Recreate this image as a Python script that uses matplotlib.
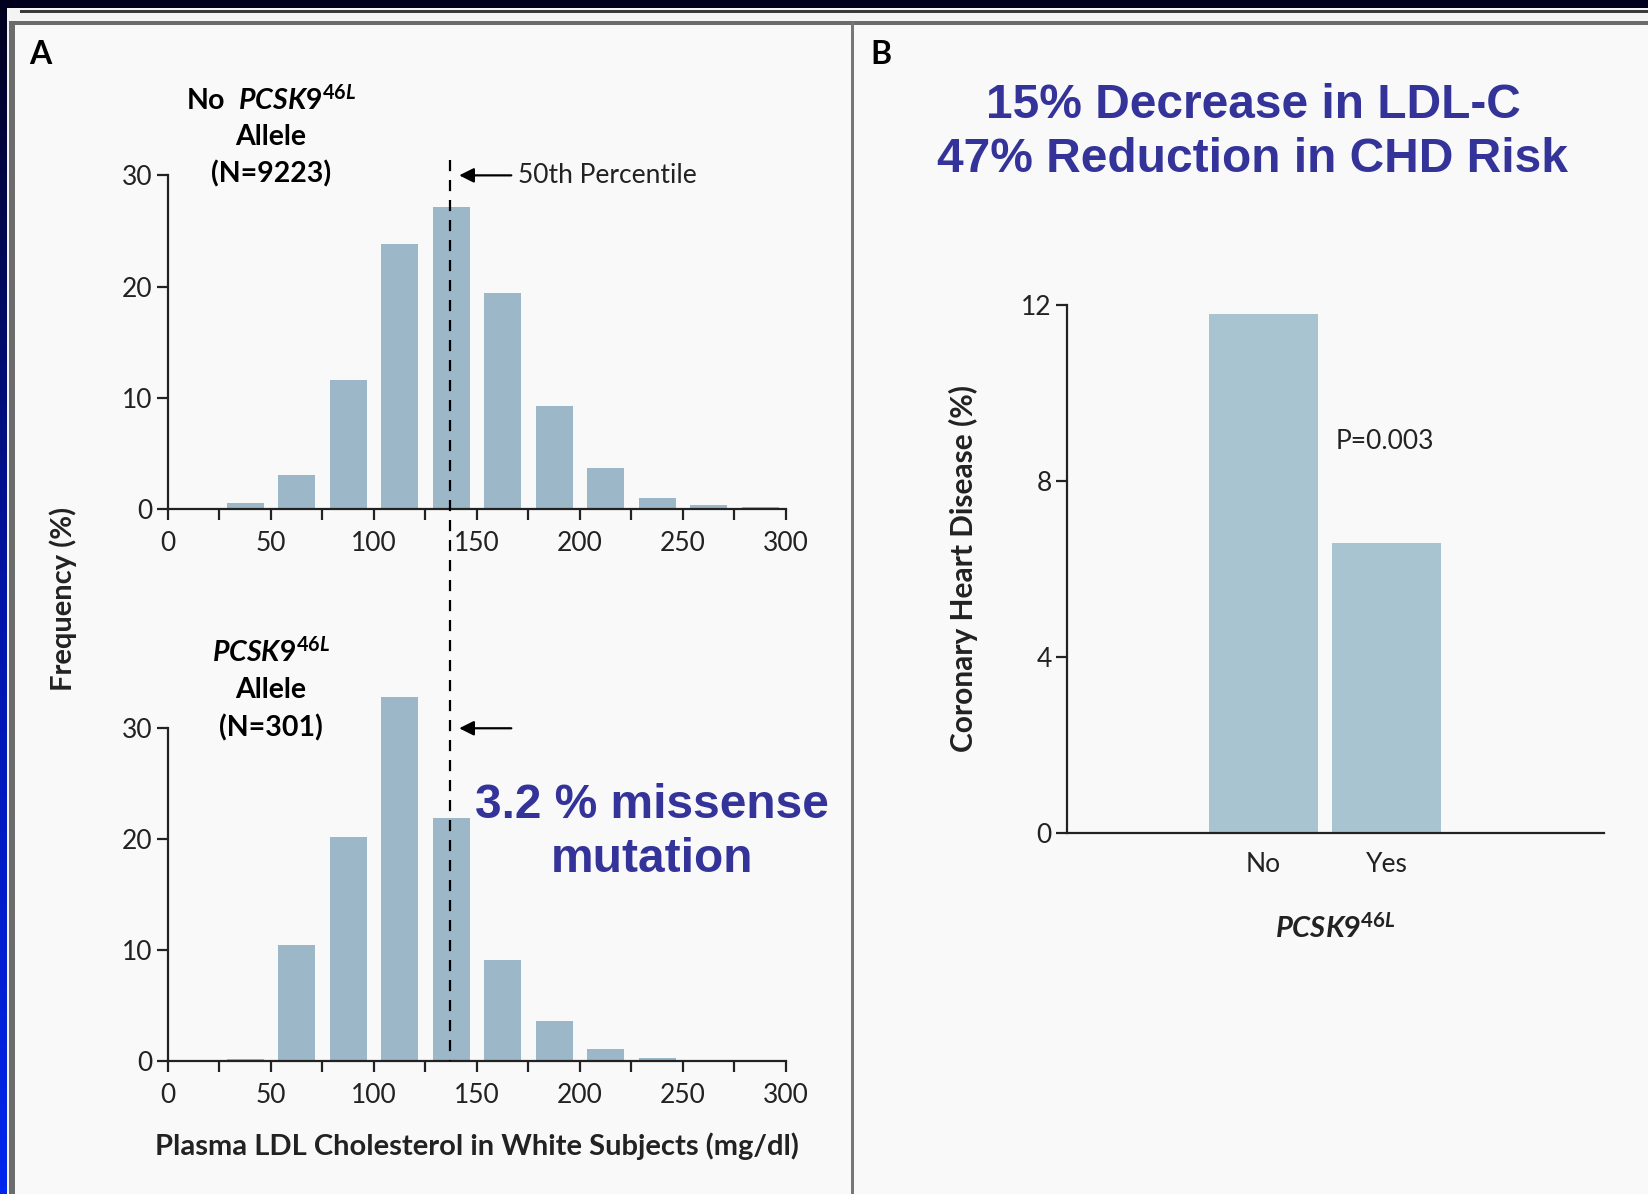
import numpy as np
import matplotlib
matplotlib.use("Agg")
from matplotlib import pyplot as plt
from matplotlib.patches import Rectangle
from matplotlib.lines import Line2D
import matplotlib.transforms as mtransforms

plt.rcParams['font.family'] = ['Lato', 'DejaVu Sans']
plt.rcParams['mathtext.fontset'] = 'custom'
plt.rcParams['mathtext.it'] = 'Lato:italic:bold'
plt.rcParams['mathtext.rm'] = 'Lato:bold'

# data
bin_centers = [37.5, 62.5, 87.5, 112.5, 137.5, 162.5, 187.5, 212.5, 237.5, 262.5, 287.5]
freq_no_allele = [0.5, 3.1, 11.6, 23.8, 27.2, 19.4, 9.3, 3.7, 1.0, 0.35, 0.15]
freq_allele = [0.2, 10.5, 20.2, 32.8, 21.9, 9.1, 3.6, 1.05, 0.24, 0.0, 0.0]
median_ldl = 137
x_ticks = [0, 50, 100, 150, 200, 250, 300]
x_minor = [25, 75, 125, 175, 225, 275]
freq_ticks = [0, 10, 20, 30]

chd_groups = ['No', 'Yes']
chd_rate = [11.8, 6.6]
chd_ticks = [0, 4, 8, 12]

W, H = 1649, 1194
fig = plt.figure(figsize=(W / 100, H / 100), dpi=100)
fig.patch.set_facecolor('#f9f9fa')


def box(x0, y0, x1, y1):
    # pixel box (top-left origin) -> figure fraction [left, bottom, width, height]
    return [x0 / W, 1 - y1 / H, (x1 - x0) / W, (y1 - y0) / H]


def rect(x0, y0, x1, y1, color, z=0):
    l, b, w, h = box(x0, y0, x1, y1)
    fig.add_artist(Rectangle((l, b), w, h, transform=fig.transFigure,
                             facecolor=color, edgecolor='none', zorder=z))


def px(x, y):
    return x / W, 1 - y / H


# slide frame
rect(0, 0, W, 8, '#00001e')
rect(7, 8, W, 21, '#f4f4f4')
rect(20, 10, W, 12.5, '#3a3a3a')
rect(9, 21, W, 24.5, '#6c6c6c')
rect(7, 8, 9, H, '#f4f4f4')
rect(9, 21, 15, H, '#6c6c6c')
rect(851, 22, 854, H, '#777777')
strip = fig.add_axes(box(0, 8, 7, H))
grad = np.linspace(0, 1, 200).reshape(-1, 1)
strip.imshow(grad, aspect='auto', cmap=matplotlib.colors.LinearSegmentedColormap.from_list(
    'edge', ['#00001e', '#0014a8', '#0026ee']))
strip.axis('off')

hist_color = '#9bb7c8'
tick_size = 19


def style_hist(ax):
    for s in ['top', 'right']:
        ax.spines[s].set_visible(False)
    for s in ['left', 'bottom']:
        ax.spines[s].set_linewidth(1.6)
        ax.spines[s].set_color('#222222')
    ax.spines['left'].set_bounds(0, 30)
    ax.set_xlim(0, 300)
    ax.set_ylim(0, 33)
    ax.set_xticks(x_ticks)
    ax.set_xticks(x_minor, minor=True)
    ax.set_yticks(freq_ticks)
    ax.tick_params(which='both', direction='out', length=8, width=1.6,
                   labelsize=tick_size, colors='#222222')
    ax.tick_params(axis='x', pad=8)
    ax.tick_params(axis='y', pad=3)
    ax.set_facecolor('none')


# panel A top
ax1 = fig.add_axes(box(168, 142, 786, 509))
ax1.bar(bin_centers, freq_no_allele, width=18, color=hist_color, zorder=1)
style_hist(ax1)
ax1.annotate('', xy=(140, 30), xytext=(168, 30),
             arrowprops=dict(arrowstyle='-|>', color='black', lw=1.6, mutation_scale=22))
ax1.text(170, 30, '50th Percentile', fontsize=19, va='center', ha='left', color='#222222')

# panel A bottom
ax2 = fig.add_axes(box(168, 695, 786, 1061))
ax2.bar(bin_centers, freq_allele, width=18, color=hist_color, zorder=1)
style_hist(ax2)
ax2.annotate('', xy=(140, 30), xytext=(168, 30),
             arrowprops=dict(arrowstyle='-|>', color='black', lw=1.6, mutation_scale=22))

# median line through both histograms
trans = mtransforms.blended_transform_factory(ax1.transData, fig.transFigure)
fig.add_artist(Line2D([median_ldl, median_ldl], [px(0, 160)[1], px(0, 1061)[1]],
                      transform=trans, color='black', lw=1.6, ls=(0, (5, 4)), zorder=5))

lab = 20.5
fig.text(*px(271, 100), r'No  $\mathit{PCSK9}^{\mathit{46L}}$', fontsize=lab,
         fontweight='bold', ha='center', va='center')
fig.text(*px(271, 137), 'Allele', fontsize=lab, fontweight='bold', ha='center', va='center')
fig.text(*px(271, 174), '(N=9223)', fontsize=lab, fontweight='bold', ha='center', va='center')
fig.text(*px(271, 652), r'$\mathit{PCSK9}^{\mathit{46L}}$', fontsize=lab,
         fontweight='bold', ha='center', va='center')
fig.text(*px(271, 690), 'Allele', fontsize=lab, fontweight='bold', ha='center', va='center')
fig.text(*px(271, 728), '(N=301)', fontsize=lab, fontweight='bold', ha='center', va='center')

fig.text(*px(63, 599), 'Frequency (%)', fontsize=21, fontweight='bold', rotation=90,
         ha='center', va='center', color='#222222')
fig.text(*px(477, 1146), 'Plasma LDL Cholesterol in White Subjects (mg/dl)', fontsize=21,
         fontweight='bold', ha='center', va='center', color='#222222')
fig.text(*px(40, 55), 'A', fontsize=23, fontweight='bold', ha='center', va='center')
fig.text(*px(881, 55), 'B', fontsize=23, fontweight='bold', ha='center', va='center')

blue = '#333399'
fig.text(*px(652, 805), '3.2 % missense', fontsize=34.5, fontweight='bold',
         family='Liberation Sans', color=blue, ha='center', va='center')
fig.text(*px(652, 860), 'mutation', fontsize=34.5, fontweight='bold',
         family='Liberation Sans', color=blue, ha='center', va='center')
fig.text(*px(1253, 105), '15% Decrease in LDL-C', fontsize=34.5, fontweight='bold',
         family='Liberation Sans', color=blue, ha='center', va='center')
fig.text(*px(1253, 160), '47% Reduction in CHD Risk', fontsize=34.5, fontweight='bold',
         family='Liberation Sans', color=blue, ha='center', va='center')

# panel B
ax3 = fig.add_axes(box(1067, 305, 1604, 833))
xpos = np.arange(len(chd_groups))
ax3.bar(xpos, chd_rate, width=0.886, color='#a8c4d1')
ax3.set_xlim(-1.598, 2.768)
ax3.set_ylim(0, 12)
ax3.set_yticks(chd_ticks)
ax3.set_xticks(xpos)
ax3.set_xticklabels(chd_groups)
for s in ['top', 'right']:
    ax3.spines[s].set_visible(False)
for s in ['left', 'bottom']:
    ax3.spines[s].set_linewidth(1.6)
    ax3.spines[s].set_color('#222222')
ax3.tick_params(axis='y', direction='out', length=8, width=1.6, labelsize=tick_size,
                colors='#222222', pad=3)
ax3.tick_params(axis='x', length=0, labelsize=tick_size, pad=14, colors='#222222')
ax3.set_facecolor('none')
ax3.text(0.589, 8.89, 'P=0.003', fontsize=19, ha='left', va='center', color='#222222')
fig.text(*px(1335, 928), r'$\mathit{PCSK9}^{\mathit{46L}}$', fontsize=21,
         ha='center', va='center', color='#222222')
fig.text(*px(963, 569), 'Coronary Heart Disease (%)', fontsize=21.5, fontweight='bold',
         rotation=90, ha='center', va='center', color='#222222')

plt.savefig('out.png', dpi=100, facecolor=fig.get_facecolor())
